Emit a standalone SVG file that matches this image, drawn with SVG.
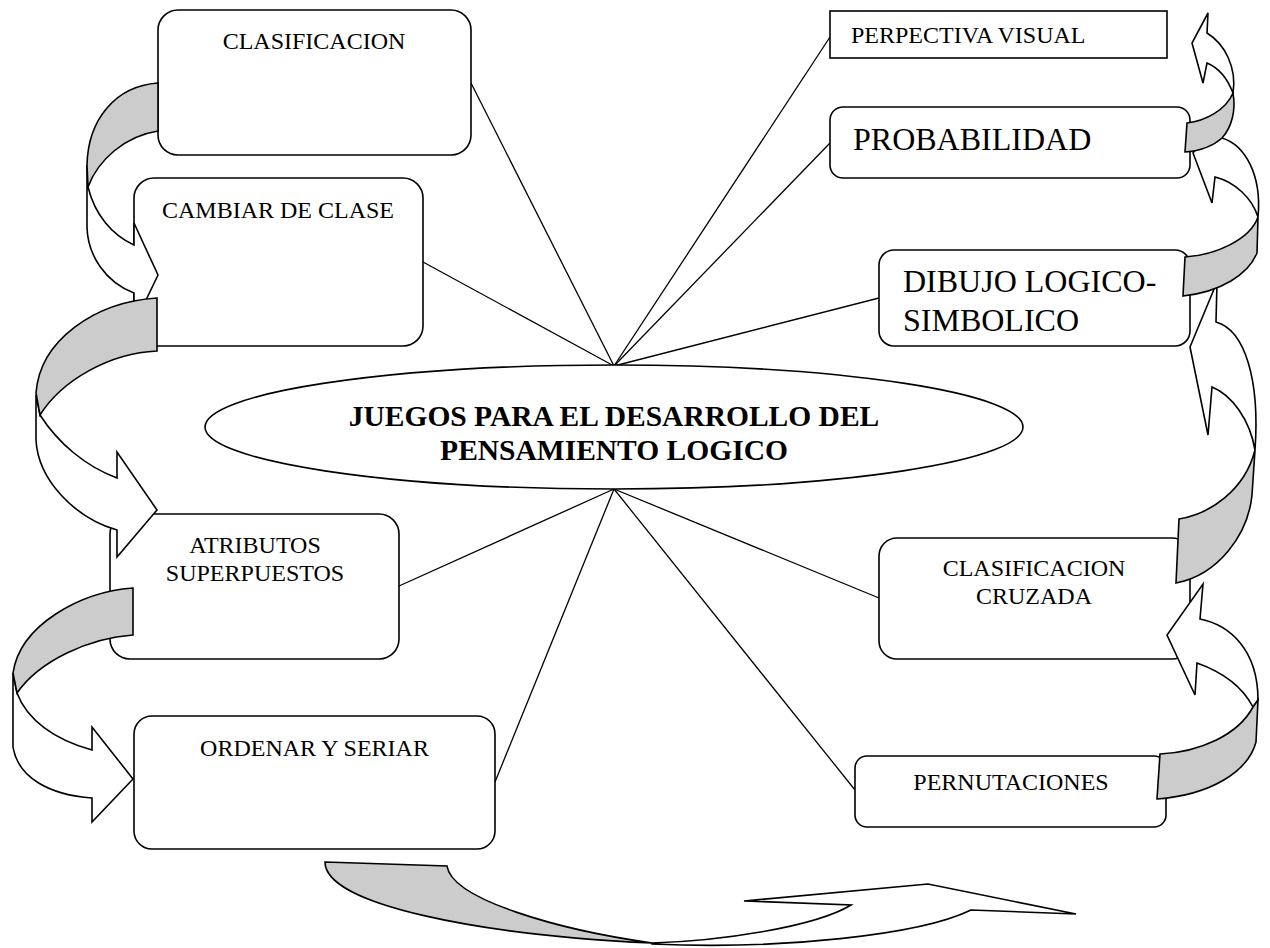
<svg xmlns="http://www.w3.org/2000/svg" width="1270" height="948" viewBox="0 0 1270 948">
<style>
.box{fill:#fff;stroke:#000;stroke-width:1.6}
.t{font-family:"Liberation Serif","Times New Roman",serif;font-size:24px;fill:#000}
.big{font-family:"Liberation Serif","Times New Roman",serif;font-size:32px;fill:#000}
.ttl{font-family:"Liberation Serif","Times New Roman",serif;font-weight:bold;font-size:29.5px;fill:#000}
.ln{stroke:#000;stroke-width:1.3;fill:none}
.w{fill:#fff;stroke:#000;stroke-width:1.6;stroke-linejoin:miter}
.g{fill:#cccccc;stroke:#000;stroke-width:1.6;stroke-linejoin:miter}
</style>
<rect width="1270" height="948" fill="#fff"/>
<g id="connectors">
<line class="ln" x1="614" y1="366" x2="471" y2="83"/>
<line class="ln" x1="614" y1="366" x2="423" y2="262"/>
<line class="ln" x1="614" y1="366" x2="830" y2="37"/>
<line class="ln" x1="614" y1="366" x2="830" y2="143"/>
<line class="ln" x1="614" y1="366" x2="879" y2="298"/>
<line class="ln" x1="614" y1="489" x2="399" y2="586"/>
<line class="ln" x1="614" y1="489" x2="495" y2="782"/>
<line class="ln" x1="614" y1="489" x2="879" y2="598"/>
<line class="ln" x1="614" y1="489" x2="855" y2="790"/>
</g>
<g id="center">
<ellipse class="box" cx="614" cy="427" rx="409" ry="62"/>
<text class="ttl" x="614" y="426" text-anchor="middle">JUEGOS PARA EL DESARROLLO DEL</text>
<text class="ttl" x="614" y="460" text-anchor="middle">PENSAMIENTO LOGICO</text>
</g>
<g id="n1"><rect class="box" x="158" y="10" width="313" height="145" rx="20"/><text class="t" x="314" y="49" text-anchor="middle">CLASIFICACION</text></g>
<g id="n2"><rect class="box" x="134" y="178" width="289" height="168" rx="20"/><text class="t" x="278" y="218" text-anchor="middle">CAMBIAR DE CLASE</text></g>
<g id="n3"><rect class="box" x="110" y="514" width="289" height="145" rx="20"/><text class="t" x="255" y="553" text-anchor="middle">ATRIBUTOS</text><text class="t" x="255" y="581" text-anchor="middle">SUPERPUESTOS</text></g>
<g id="n4"><rect class="box" x="134" y="716" width="361" height="133" rx="18"/><text class="t" x="314.5" y="756" text-anchor="middle">ORDENAR Y SERIAR</text></g>
<g id="n5"><rect class="box" x="830" y="11" width="337" height="47"/><text class="t" x="851" y="43">PERPECTIVA VISUAL</text></g>
<g id="n6"><rect class="box" x="830" y="107" width="360" height="71" rx="13"/><text class="big" font-family="Liberation Serif, serif" x="853" y="150">PROBABILIDAD</text></g>
<g id="n7"><rect class="box" x="879" y="250" width="311" height="96" rx="15"/><text class="big" font-family="Liberation Serif, serif" x="903" y="292">DIBUJO LOGICO-</text><text class="big" font-family="Liberation Serif, serif" x="903" y="331">SIMBOLICO</text></g>
<g id="n8"><rect class="box" x="879" y="538" width="311" height="121" rx="18"/><text class="t" x="1034" y="576" text-anchor="middle">CLASIFICACION</text><text class="t" x="1034" y="604" text-anchor="middle">CRUZADA</text></g>
<g id="n9"><rect class="box" x="855" y="756" width="311" height="71" rx="12"/><text class="t" x="1011" y="790" text-anchor="middle">PERNUTACIONES</text></g>
<g id="arrows">
<path class="w" d="M87,165 L87,228 C88,255 105,282 134,293 L134,325 L158,275 L134,223 L134,245 C112,235 95,215 88,187 Z"/>
<path class="g" d="M158,83 C115,86 88,120 87,165 L88,187 C98,160 125,136 158,131 Z"/>
<path class="w" d="M36,395 L36,440 C38,480 75,518 117,530 L117,557 L157,510 L117,452 L117,478 C85,466 58,443 40,415 Z"/>
<path class="g" d="M157,298 C95,302 40,340 36,393 L40,415 C62,380 110,353 157,351 Z"/>
<path class="w" d="M13,673 L13,747 C18,778 50,795 92,798 L92,822 L133,779 L92,727 L92,750 C55,740 27,720 17,693 Z"/>
<path class="g" d="M133,588 C80,592 20,625 13,673 L17,693 C40,660 90,638 133,635 Z"/>
<path class="g" d="M325,862 L447,866 C452,900 560,930 652,943 C480,935 325,905 325,862 Z"/>
<path class="w" d="M652,943 C720,941 815,927 851,905 L744,901 L928,884 L1076,914 L971,910 C920,935 780,950 652,944 Z"/>
<path class="w" d="M1200,619 C1230,625 1258,650 1258,700 L1253,707 C1243,688 1225,673 1197,663 L1195,695 L1167,635 L1203,584 Z"/>
<path class="g" d="M1160,754 C1200,752 1238,735 1253,707 L1258,700 L1256,742 C1248,772 1210,795 1157,799 Z"/>
<path class="w" d="M1216,322 C1245,330 1260,380 1255,450 C1250,420 1232,395 1212,387 L1208,435 L1190,347 L1217,282 Z"/>
<path class="g" d="M1179,519 C1210,514 1245,490 1255,450 L1252,495 C1248,535 1218,575 1176,583 Z"/>
<path class="w" d="M1222,138 C1245,145 1262,175 1258,217 C1252,198 1235,182 1215,177 L1212,203 L1193,153 L1212,128 Z"/>
<path class="g" d="M1185,257 C1215,255 1250,240 1258,217 L1257,253 C1248,275 1220,292 1183,296 Z"/>
<path class="w" d="M1207,33 C1225,44 1237,68 1233,93 C1228,80 1219,68 1207,63 L1203,83 L1192,43 L1208,13 Z"/>
<path class="g" d="M1187,123 C1205,121 1226,110 1233,93 C1236,110 1232,127 1222,138 C1212,147 1200,151 1185,152 Z"/>
</g>
</svg>
